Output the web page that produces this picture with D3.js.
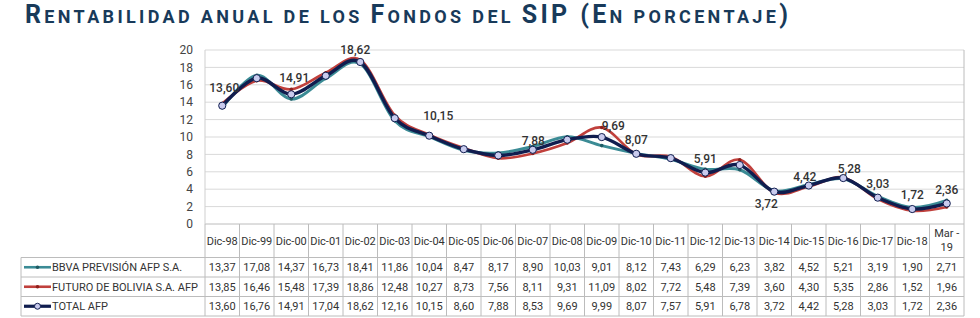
<!DOCTYPE html>
<html lang="en">
<meta charset="utf-8">
<style type="text/css">
        body {
          margin: 0;
          background: #fff;
        }
        svg {
          display: block;
        }
        .grid line {
          stroke: #d9d9d9;
          stroke-width: 1px;
        }
        .ytick {
          font-family: Roboto, "Noto Sans", sans-serif;
          font-size: 12px;
          fill: #444;
        }
        .cell {
          font-family: Roboto, "Noto Sans", sans-serif;
          font-size: 11px;
          fill: #333;
        }
        .dlabel {
          font-family: Roboto, "Noto Sans", sans-serif;
          font-size: 12px;
          font-weight: 500;
          fill: #333;
        }
        .title {
          font-family: Roboto, "Noto Sans", sans-serif;
          font-weight: bold;
          fill: #183a5a;
        }
</style>
<body>
<script src="https://cdnjs.cloudflare.com/ajax/libs/d3/7.8.5/d3.min.js"></script>
<script>
// data
var categories = ["Dic-98","Dic-99","Dic-00","Dic-01","Dic-02","Dic-03","Dic-04","Dic-05","Dic-06","Dic-07","Dic-08",
                  "Dic-09","Dic-10","Dic-11","Dic-12","Dic-13","Dic-14","Dic-15","Dic-16","Dic-17","Dic-18","Mar-19"];
var bbva   = [13.37,17.08,14.37,16.73,18.41,11.86,10.04,8.47,8.17,8.90,10.03,9.01,8.12,7.43,6.29,6.23,3.82,4.52,5.21,3.19,1.90,2.71];
var futuro = [13.85,16.46,15.48,17.39,18.86,12.48,10.27,8.73,7.56,8.11,9.31,11.09,8.02,7.72,5.48,7.39,3.60,4.30,5.35,2.86,1.52,1.96];
var total  = [13.60,16.76,14.91,17.04,18.62,12.16,10.15,8.60,7.88,8.53,9.69,9.99,8.07,7.57,5.91,6.78,3.72,4.42,5.28,3.03,1.72,2.36];
var seriesNames = ["BBVA PREVISIÓN AFP S.A.", "FUTURO DE BOLIVIA S.A. AFP", "TOTAL AFP"];
var yTicks = [0,2,4,6,8,10,12,14,16,18,20];
// which TOTAL points carry a value label
var labelled = [0,2,4,6,8,10,12,14,16,17,18,19,20,21];

var width = 980, height = 318;
var plotLeft = 205, plotRight = 964, plotTop = 50, zero = 224;
var headH = 33.5, rowH = 19.5, tableLeft = 21;

// hand-placed label offsets (px) as in the original, [dx, dy]
var labelNudge = {0: [2, -4], 2: [3, -2], 4: [-5, 2], 6: [9, -6], 8: [35, -1], 10: [46, 0],
                  16: [-8, 26], 17: [-4, 5], 18: [6, 5]};

var colors = ["#3b8b95", "#c0403c", "#101d4f"];
var dotColors = ["#1f5a62", "#8e1f1b", "#101d4f"];
var lineWidths = [3, 2.6, 3.4];
var series = [bbva, futuro, total];

var fmt = function (v) { return v.toFixed(2).replace(".", ","); };

var svg = d3.select("body").append("svg")
    .attr("width", width)
    .attr("height", height);

// title, small caps
var title = svg.append("text")
    .attr("class", "title")
    .attr("x", 25)
    .attr("y", 23)
    .attr("textLength", 763)
    .attr("lengthAdjust", "spacing");
var titleParts = [["R", 1], ["ENTABILIDAD ANUAL DE LOS ", 0], ["F", 1], ["ONDOS DEL ", 0],
                  ["SIP (E", 1], ["N PORCENTAJE", 0], [")", 1]];
titleParts.forEach(function (p) {
    title.append("tspan")
        .attr("font-size", p[1] ? 25 : 18)
        .text(p[0]);
});

var x = d3.scaleBand().domain(categories).range([plotLeft, plotRight]).paddingInner(0).paddingOuter(0);
var y = d3.scaleLinear().domain([0, 20]).range([zero, plotTop]);
var cx = function (i) { return x(categories[i]) + x.bandwidth() / 2; };

// gridlines
svg.append("g").attr("class", "grid")
    .selectAll("line")
    .data(yTicks.filter(function (d) { return d > 0; }))
    .enter().append("line")
    .attr("x1", plotLeft).attr("x2", plotRight)
    .attr("y1", function (d) { return y(d); })
    .attr("y2", function (d) { return y(d); });

svg.append("g")
    .selectAll("text")
    .data(yTicks)
    .enter().append("text")
    .attr("class", "ytick")
    .attr("x", 193)
    .attr("y", function (d) { return y(d); })
    .attr("dy", "0.35em")
    .attr("text-anchor", "end")
    .text(function (d) { return d; });

// table
var tb = svg.append("g").attr("class", "table");
var tableBottom = zero + headH + rowH * 3;
var tStroke = "#bcbcbc";
// horizontal rules
tb.append("line").attr("x1", plotLeft).attr("x2", plotRight).attr("y1", zero).attr("y2", zero)
    .attr("stroke", tStroke);
[0, 1, 2, 3].forEach(function (r) {
    var yy = zero + headH + r * rowH;
    tb.append("line").attr("x1", tableLeft).attr("x2", plotRight).attr("y1", yy).attr("y2", yy)
        .attr("stroke", tStroke);
});
// vertical rules
categories.forEach(function (c) {
    tb.append("line").attr("x1", x(c)).attr("x2", x(c)).attr("y1", zero).attr("y2", tableBottom)
        .attr("stroke", tStroke);
});
tb.append("line").attr("x1", plotRight).attr("x2", plotRight).attr("y1", plotTop).attr("y2", tableBottom)
    .attr("stroke", tStroke);
tb.append("line").attr("x1", plotLeft).attr("x2", plotLeft).attr("y1", plotTop).attr("y2", zero)
    .attr("stroke", "#cfcfcf");
tb.append("line").attr("x1", tableLeft).attr("x2", tableLeft).attr("y1", zero + headH).attr("y2", tableBottom)
    .attr("stroke", tStroke);

// header labels
var head = tb.append("g").selectAll("text")
    .data(categories)
    .enter().append("text")
    .attr("class", "cell")
    .attr("text-anchor", "middle")
    .attr("x", function (d) { return x(d) + x.bandwidth() / 2; })
    .attr("y", zero + headH / 2)
    .attr("dy", "0.35em");
head.each(function (d) {
    var t = d3.select(this);
    if (d.indexOf("Mar") === 0) {
        var parts = d.split("-");
        t.attr("dy", null);
        t.append("tspan").attr("x", x(d) + x.bandwidth() / 2).attr("y", zero + 13).text(parts[0] + " -");
        t.append("tspan").attr("x", x(d) + x.bandwidth() / 2).attr("y", zero + 27).text(parts[1]);
    } else {
        t.text(d);
    }
});

// rows
series.forEach(function (vals, s) {
    var rowMid = zero + headH + s * rowH + rowH / 2;
    tb.append("g").selectAll("text")
        .data(vals)
        .enter().append("text")
        .attr("class", "cell")
        .attr("text-anchor", "middle")
        .attr("x", function (d, i) { return cx(i); })
        .attr("y", rowMid)
        .attr("dy", "0.35em")
        .text(fmt);

    // legend key
    var lg = tb.append("g");
    lg.append("line").attr("x1", 24).attr("x2", 51).attr("y1", rowMid).attr("y2", rowMid)
        .attr("stroke", colors[s]).attr("stroke-width", s === 2 ? 3.2 : 2.6);
    if (s === 2) {
        lg.append("circle").attr("cx", 37.5).attr("cy", rowMid).attr("r", 3)
            .attr("fill", "#c9cbee").attr("stroke", colors[2]).attr("stroke-width", 1);
    } else {
        lg.append("circle").attr("cx", 37.5).attr("cy", rowMid).attr("r", 1.8)
            .attr("fill", dotColors[s]);
    }
    lg.append("text").attr("class", "cell")
        .attr("x", 52).attr("y", rowMid).attr("dy", "0.35em")
        .text(seriesNames[s]);
});

// lines
var line = d3.line()
    .x(function (d, i) { return cx(i); })
    .y(function (d) { return y(d); })
    .curve(d3.curveCardinal.tension(0));

series.forEach(function (vals, s) {
    svg.append("path")
        .datum(vals)
        .attr("fill", "none")
        .attr("stroke", colors[s])
        .attr("stroke-width", lineWidths[s])
        .attr("stroke-linejoin", "round")
        .attr("d", line);
    if (s < 2) {
        svg.append("g").selectAll("circle")
            .data(vals)
            .enter().append("circle")
            .attr("cx", function (d, i) { return cx(i); })
            .attr("cy", function (d) { return y(d); })
            .attr("r", 1.8)
            .attr("fill", dotColors[s]);
    }
});

svg.append("g").selectAll("circle")
    .data(total)
    .enter().append("circle")
    .attr("cx", function (d, i) { return cx(i); })
    .attr("cy", function (d) { return y(d); })
    .attr("r", 3.6)
    .attr("fill", "#c9cbee")
    .attr("stroke", colors[2])
    .attr("stroke-width", 1);

// value labels on TOTAL
var nudge = function (i) { return labelNudge[i] || [0, 0]; };
svg.append("g").selectAll("text")
    .data(labelled)
    .enter().append("text")
    .attr("class", "dlabel")
    .attr("text-anchor", "middle")
    .attr("x", function (i) { return cx(i) + nudge(i)[0]; })
    .attr("y", function (i) { return y(total[i]) - 14 + nudge(i)[1]; })
    .attr("dy", "0.35em")
    .text(function (i) { return fmt(total[i]); });
</script>
</body>
</html>
